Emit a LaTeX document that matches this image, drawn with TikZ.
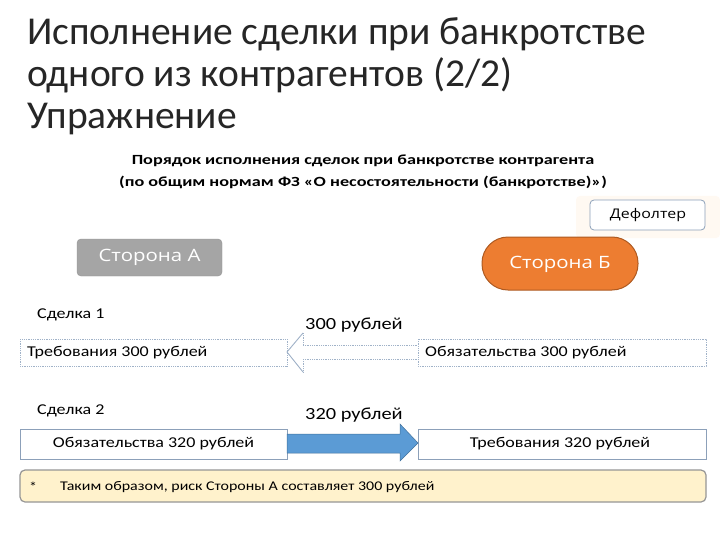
\documentclass[tikz,border=0pt]{standalone}
\usepackage{fontspec}
\setmainfont{Carlito}
\newfontfamily\wcal[FakeStretch=1.2]{Carlito}
\newfontfamily\wsub[FakeStretch=1.3]{Carlito}
\newfontfamily\wos[FakeStretch=1.2]{Open Sans}
\usetikzlibrary{calc}
\definecolor{bordblue}{RGB}{140,160,185}
\definecolor{dotblue}{RGB}{160,178,200}
\definecolor{arrowblue}{RGB}{91,155,213}
\definecolor{arrowedge}{RGB}{65,113,156}
\definecolor{orangeB}{RGB}{237,125,49}
\definecolor{orangeEdge}{RGB}{174,90,33}
\definecolor{grayA}{RGB}{165,165,165}
\definecolor{noteyellow}{RGB}{255,242,204}
\definecolor{notegray}{RGB}{150,150,150}
\tikzset{
  titletext/.style={anchor=base west, inner sep=0pt, font=\fontsize{39.5}{44}\selectfont, text=black!85},
  subtext/.style={inner sep=0pt, font=\wsub\fontsize{14}{16}\bfseries\selectfont},
  lbl/.style={anchor=base west, inner sep=0pt, font=\wcal\fontsize{15}{17}\selectfont},
  amount/.style={anchor=base west, inner sep=0pt, font=\wcal\fontsize{17}{19}\selectfont},
  dotbox/.style={draw=dotblue, densely dotted, line width=0.8pt},
  solidbox/.style={draw=bordblue, line width=0.7pt, fill=white},
  boxtext/.style={inner sep=0pt, font=\wcal\fontsize{15}{17}\selectfont},
  notetext/.style={inner sep=0pt, anchor=west, font=\wcal\fontsize{13.3}{15}\selectfont},
  party/.style={inner sep=0pt, text=white, font=\wos\fontsize{17}{19}\selectfont},
}
\begin{document}
\begin{tikzpicture}[x=1pt,y=-1pt]
\useasboundingbox (0,0) rectangle (720,540);
\fill[white] (0,0) rectangle (720,540);
% title
\node[titletext] (t1) at (27,45) {Исполнение сделки при банкротстве};
\node[titletext] (t2) at (27,87) {одного из контрагентов (2/2)};
\node[titletext] (t3) at (27,129) {Упражнение};
% subtitle
\node[subtext, anchor=base] (s1) at (363,165) {Порядок исполнения сделок при банкротстве контрагента};
\node[subtext, anchor=base] (s2) at (363,187) {(по общим нормам ФЗ «О несостоятельности (банкротстве)»)};
% defaulter
\fill[orange!5, rounded corners=4pt] (576,196) rectangle (720,238);
\draw[bordblue, fill=white, rounded corners=4pt, line width=0.8pt] (590,200) rectangle (705,230);
\node[inner sep=0pt, font=\wos\fontsize{13.3}{15}\selectfont] (def) at (648,215) {Дефолтер};
% parties
\draw[grayA!90!black, fill=grayA, rounded corners=4pt, line width=0.4pt] (77,239) rectangle (222,276);
\node[party] (A) at (149.5,257.5) {Сторона А};
\draw[orangeEdge, fill=orangeB, rounded corners=26pt, line width=1pt] (482,237) rectangle (638,290);
\node[party] (B) at (560,264) {Сторона Б};
% deal 1
\node[lbl] (d1) at (37,318) {Сделка 1};
\node[amount] (m1) at (305,329) {300 рублей};
\draw[dotbox] (20,339) rectangle (287,366);
\node[boxtext, anchor=west] (r1l) at (27,353) {Требования 300 рублей};
\draw[dotbox] (418,339) rectangle (706,366);
\node[boxtext, anchor=west] (r1r) at (425,353) {Обязательства 300 рублей};
% hollow arrow (deal 1)
\coordinate (tip1) at (287,352);
\draw[dotblue, line width=0.9pt] (303,333) -- (tip1) -- (303,372);
\draw[dotblue, densely dotted, line width=0.8pt] (303,345) -- (418,345);
\draw[dotblue, densely dotted, line width=0.8pt] (303,359) -- (418,359);
\draw[dotblue, densely dotted, line width=0.8pt] (303,333) -- (303,345);
\draw[dotblue, densely dotted, line width=0.8pt] (303,359) -- (303,372);
% deal 2
\node[lbl] (d2) at (37,414) {Сделка 2};
\node[amount] (m2) at (305,419) {320 рублей};
\draw[solidbox] (20,429) rectangle (287,459);
\node[boxtext] (r2l) at (153.5,444) {Обязательства 320 рублей};
\draw[solidbox] (418,429) rectangle (706,459);
\node[boxtext] (r2r) at (560,444) {Требования 320 рублей};
% filled arrow (deal 2)
\draw[arrowedge, fill=arrowblue, line width=0.5pt, line join=miter]
  (287,434) -- (400,434) -- (400,424) -- (418,443) -- (400,461) -- (400,453) -- (287,453) -- cycle;
% note
\draw[notegray, fill=noteyellow, rounded corners=5pt, line width=1.2pt] (20,470) rectangle (706,502);
\node[notetext] (star) at (29,487) {*};
\node[notetext] (note) at (60,487) {Таким образом, риск Стороны А составляет 300 рублей};
\end{tikzpicture}
\end{document}
